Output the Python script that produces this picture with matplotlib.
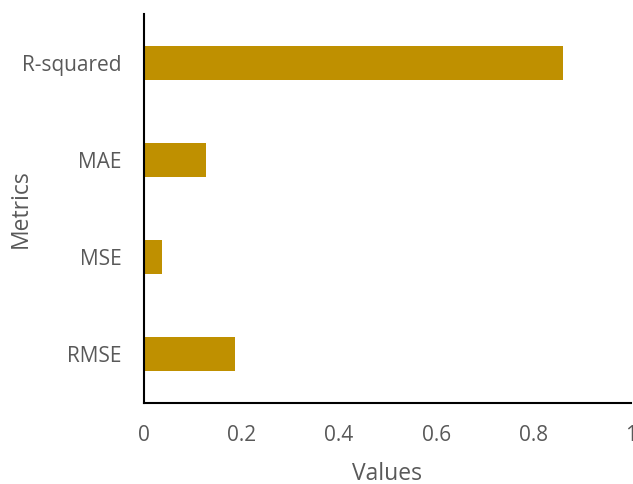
import matplotlib
matplotlib.use('Agg')
import matplotlib.pyplot as plt

metrics = ['RMSE', 'MSE', 'MAE', 'R-squared']
values = [0.186, 0.036, 0.127, 0.86]
ticks = [0, 0.2, 0.4, 0.6, 0.8, 1]
tick_labels = ['0', '0.2', '0.4', '0.6', '0.8', '1']

plt.rcParams['font.family'] = ['Open Sans', 'DejaVu Sans']
grey = '#595959'
barcol = '#BF9000'

fig = plt.figure(figsize=(6.33, 4.84), dpi=100)
ax = fig.add_axes([144/633, 81/484, 487/633, 389/484])

ax.barh(range(len(metrics)), values, height=0.35, color=barcol)
ax.set_ylim(-0.5, len(metrics) - 0.5)
ax.set_xlim(0, 1)

ax.set_yticks(range(len(metrics)))
ax.set_yticklabels(metrics)
ax.set_xticks(ticks)
ax.set_xticklabels(tick_labels)

ax.tick_params(axis='both', length=0, labelsize=15, labelcolor=grey)
ax.tick_params(axis='y', pad=16)
ax.tick_params(axis='x', pad=16)

for s in ['top', 'right']:
    ax.spines[s].set_visible(False)
for s in ['left', 'bottom']:
    ax.spines[s].set_linewidth(1.5)
    ax.spines[s].set_color('black')

ax.set_xlabel('Values', fontsize=16.5, color=grey, labelpad=11)
ax.set_ylabel('Metrics', fontsize=16.5, color=grey)
# put the y label where the reference has it (right edge ~33px from the left)
ax.yaxis.set_label_coords(-0.228, 0.5)

fig.savefig('out.png', dpi=100)
